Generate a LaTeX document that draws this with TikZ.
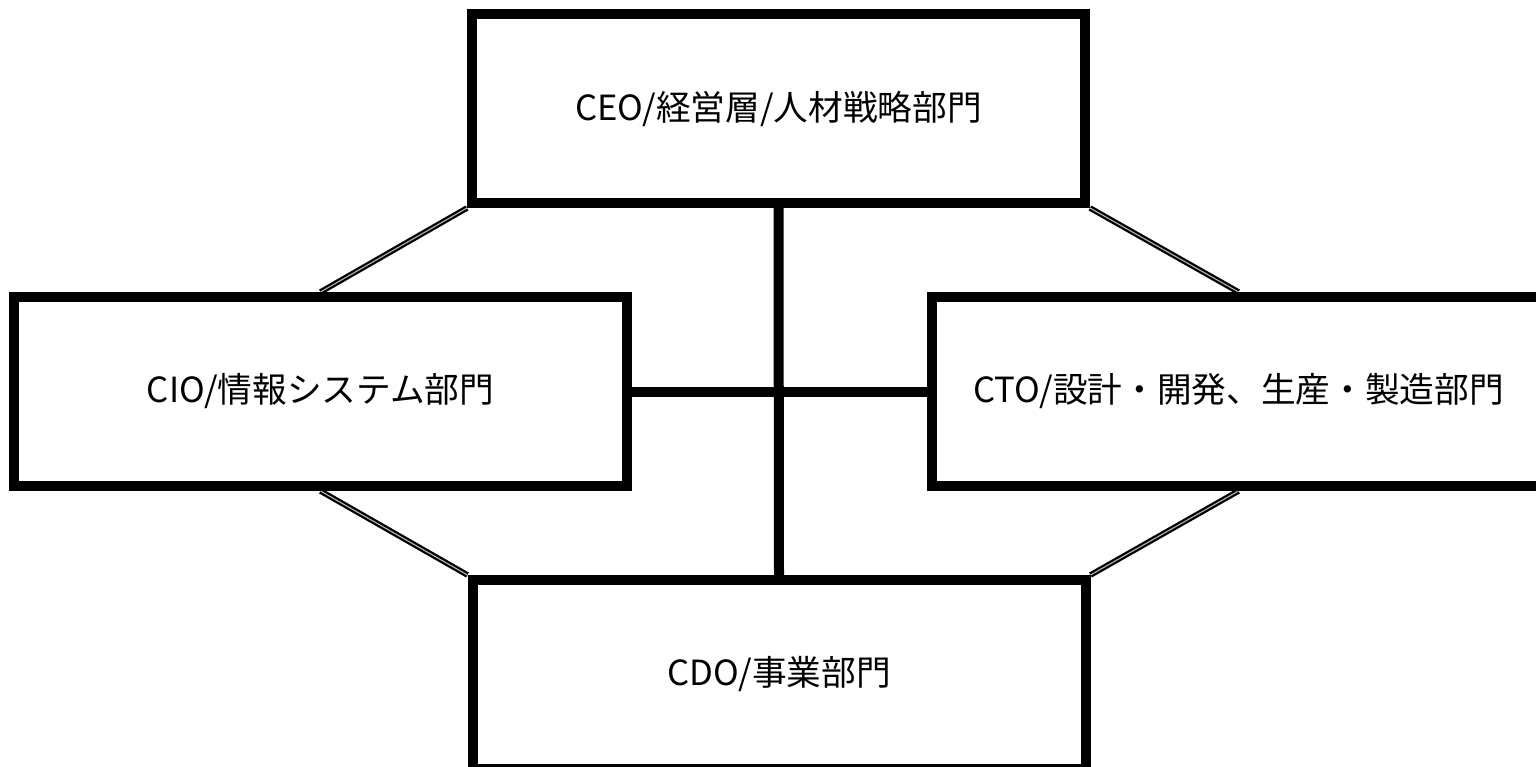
\documentclass[tikz,border=0pt]{standalone}
\usepackage{fontspec}
\setmainfont{Noto Sans CJK JP}
\usetikzlibrary{backgrounds}
\begin{document}
\begin{tikzpicture}[x=0.75pt,y=-0.75pt,
  orgbox/.style={draw=black, fill=white, line width=7.5pt, rectangle,
    minimum width=613*0.75pt, minimum height=189*0.75pt, inner sep=0pt,
    font=\fontsize{26}{30}\selectfont, text=black},
  thickline/.style={draw=black, line width=7.5pt},
  dblline/.style={draw=black, line width=1.7pt, double=gray!55, double distance=0.8pt}]
\useasboundingbox (0,0) rectangle (1536,767);
\clip (0,0) rectangle (1536,767);
\node[orgbox] (ceo) at (778.5,108.5) {CEO/経営層/人材戦略部門};
\node[orgbox] (cio) at (320.5,391.5) {CIO/情報システム部門};
\node[orgbox] (cto) at (1238.5,391.5) {CTO/設計・開発、生産・製造部門};
\node[orgbox] (cdo) at (779,674.5) {CDO/事業部門};
\begin{pgfonlayer}{background}
\draw[thickline] (ceo.south) -- (cdo.north);
\draw[thickline] (cio.east) -- (cto.west);
\draw[dblline] (ceo.south west) -- (cio.north);
\draw[dblline] (ceo.south east) -- (cto.north);
\draw[dblline] (cio.south) -- (cdo.north west);
\draw[dblline] (cto.south) -- (cdo.north east);
\end{pgfonlayer}
\end{tikzpicture}
\end{document}
